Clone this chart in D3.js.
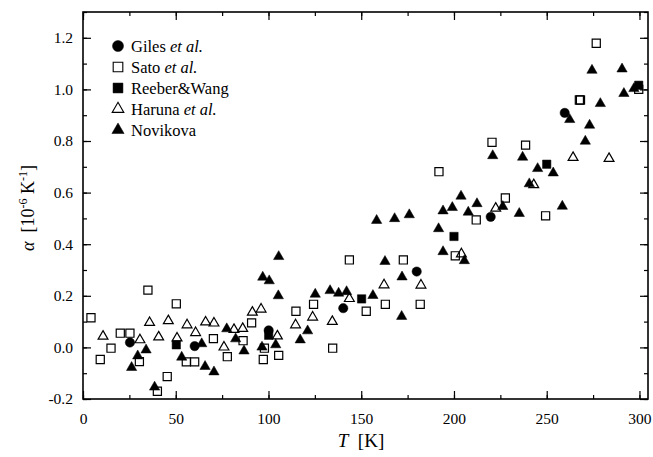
<!DOCTYPE html>
<html>
<head>
<meta charset="utf-8">
<script src="https://cdn.jsdelivr.net/npm/d3@7"></script>
<style>
  body { margin: 0; background: #fff; }
  svg { font-family: "Liberation Serif", "DejaVu Serif", serif; }
</style>
</head>
<body>
<div id="root"></div>
<script>
// Data: temperature T [K] and alpha [1e-6 / K]
const gilesT = [25.3, 60.2, 100.1, 140.3, 179.9, 219.8, 259.7];
const gilesA = [0.019, 0.005, 0.066, 0.152, 0.294, 0.506, 0.909];

const satoT = [4.3, 9.3, 15.1, 20.1, 25.3, 30.4, 35, 40.1, 45.4, 50.3, 55.7, 60.2, 70.3, 77.8, 86.3,
  90.9, 97.2, 97.8, 105.5, 114.8, 124.3, 134.6, 143.6, 152.7, 163, 172.7, 181.8, 191.9, 200.7, 212,
  220.5, 227.7, 238.6, 249.4, 267.6, 268.2, 276.7, 299.6];
const satoA = [0.115, -0.047, -0.003, 0.055, 0.055, -0.055, 0.222, -0.17, -0.113, 0.169, -0.056, -0.056, 0.034, -0.036, 0.026,
  0.095, -0.047, -0.003, -0.031, 0.14, 0.167, -0.003, 0.339, 0.14, 0.167, 0.339, 0.167, 0.681, 0.355, 0.494,
  0.795, 0.579, 0.784, 0.51, 0.959, 0.959, 1.179, 1.0];

const reeberT = [50.3, 100.1, 150.2, 200, 250, 299.6];
const reeberA = [0.01, 0.047, 0.188, 0.43, 0.71, 1.016];

const harunaT = [10.8, 30.7, 35.9, 40.8, 46, 50.7, 56.1, 60.7, 66.1, 70.6, 76, 81.4, 86.1, 91.3, 96,
  104.8, 114.6, 123.8, 134.4, 143.6, 162.3, 182.2, 204, 222.5, 243, 264.2, 283.6];
const harunaA = [0.043, 0.029, 0.096, 0.04, 0.103, 0.036, 0.087, 0.057, 0.098, 0.094, 0.001, 0.069, 0.073, 0.136, 0.148,
  0.044, 0.087, 0.117, 0.1, 0.189, 0.242, 0.241, 0.362, 0.539, 0.63, 0.736, 0.732];

const novikovaT = [26.2, 29.5, 34, 38.6, 53.2, 64, 65.8, 70.6, 77.5, 82.3, 86.8, 96.5, 96.9, 100.4, 103.9,
  105.3, 105.5, 117.1, 121.1, 125.2, 133.2, 137.8, 142.1, 156.3, 158.3, 162.8, 168, 171.8, 172, 175.9,
  191.7, 194.1, 194.1, 199.1, 203.8, 205.6, 207.7, 212.4, 220.9, 226.3, 235.2, 237, 240.6, 245.1, 253.5,
  258.4, 262.4, 270.8, 273.1, 274.4, 278.9, 290.6, 291.6, 297];
const novikovaA = [-0.078, -0.033, -0.01, -0.154, -0.038, 0.014, -0.074, -0.095, 0.072, 0.033, -0.014, 0.001, 0.272, 0.258, 0.01,
  0.2, 0.352, 0.029, 0.064, 0.206, 0.22, 0.21, 0.216, 0.201, 0.492, 0.333, 0.499, 0.12, 0.273, 0.514,
  0.46, 0.529, 0.371, 0.542, 0.586, 0.336, 0.524, 0.557, 0.743, 0.546, 0.519, 0.737, 0.634, 0.693, 0.676,
  0.547, 0.883, 0.799, 0.861, 1.074, 0.945, 1.079, 0.984, 1.003];

const xTicks = [0, 50, 100, 150, 200, 250, 300];
const yTicks = [-0.2, 0.0, 0.2, 0.4, 0.6, 0.8, 1.0, 1.2];

const W = 653, H = 457;
const mLeft = 83, mRight = 648, mTop = 12, mBottom = 399;

const svg = d3.select("#root").append("svg")
  .attr("width", W).attr("height", H);

const x = d3.scaleLinear().domain([0, 304.6]).range([mLeft, mRight]);
const y = d3.scaleLinear().domain([-0.2, 1.3]).range([mBottom, mTop]);

// Series definitions
const series = [
  { name: "Giles", tail: " et al.", T: gilesT, A: gilesA, type: d3.symbolCircle, size: 68, filled: true },
  { name: "Sato", tail: " et al.", T: satoT, A: satoA, type: d3.symbolSquare, size: 66, filled: false },
  { name: "Reeber&Wang", tail: "", T: reeberT, A: reeberA, type: d3.symbolSquare, size: 70, filled: true },
  { name: "Haruna", tail: " et al.", T: harunaT, A: harunaA, type: d3.symbolTriangle, size: 42, filled: false },
  { name: "Novikova", tail: "", T: novikovaT, A: novikovaA, type: d3.symbolTriangle, size: 46, filled: true }
];

// Axes (ticks inward on all sides)
const minorX = d3.range(0, 305, 25);
const minorY = d3.range(-0.2, 1.31, 0.1);
const fmtY = (d) => d3.format(".1f")(d).replace("\u2212", "-");

function tickAxis(axis, g) {
  g.call(axis);
  g.select(".domain").remove();
  g.selectAll("line").attr("stroke", "#000").attr("stroke-width", 1.2);
}

const gx = svg.append("g").attr("transform", `translate(0,${mBottom})`);
tickAxis(d3.axisBottom(x).tickValues(minorX).tickSize(-4).tickFormat(""), gx.append("g"));
tickAxis(d3.axisBottom(x).tickValues(xTicks).tickSize(-8).tickPadding(14).tickFormat(d3.format("d")), gx.append("g"));

const gxt = svg.append("g").attr("transform", `translate(0,${mTop})`);
tickAxis(d3.axisTop(x).tickValues(minorX).tickSize(-4).tickFormat(""), gxt.append("g"));
tickAxis(d3.axisTop(x).tickValues(xTicks).tickSize(-8).tickFormat(""), gxt.append("g"));

const gy = svg.append("g").attr("transform", `translate(${mLeft},0)`);
tickAxis(d3.axisLeft(y).tickValues(minorY).tickSize(-4).tickFormat(""), gy.append("g"));
tickAxis(d3.axisLeft(y).tickValues(yTicks).tickSize(-8).tickPadding(10).tickFormat(fmtY), gy.append("g"));

const gyr = svg.append("g").attr("transform", `translate(${mRight},0)`);
tickAxis(d3.axisRight(y).tickValues(minorY).tickSize(-4).tickFormat(""), gyr.append("g"));
tickAxis(d3.axisRight(y).tickValues(yTicks).tickSize(-8).tickFormat(""), gyr.append("g"));

svg.selectAll(".tick text")
  .attr("fill", "#000")
  .style("font-family", "'Liberation Serif', serif")
  .style("font-size", "15.5px");

svg.append("rect")
  .attr("x", mLeft).attr("y", mTop)
  .attr("width", mRight - mLeft).attr("height", mBottom - mTop)
  .attr("fill", "none").attr("stroke", "#000").attr("stroke-width", 1.6);

// Points
const drawOrder = [1, 3, 0, 2, 4];
drawOrder.forEach((i) => {
  const s = series[i];
  const sym = d3.symbol().type(s.type).size(s.size);
  svg.append("g")
    .selectAll("path")
    .data(d3.range(s.T.length))
    .join("path")
    .attr("d", sym)
    .attr("transform", (j) => `translate(${x(s.T[j])},${y(s.A[j])})`)
    .attr("fill", s.filled ? "#000" : "none")
    .attr("stroke", "#000")
    .attr("stroke-width", s.filled ? 0.5 : 1.2);
});

// Legend
const legend = svg.append("g").attr("transform", "translate(118,46)");
series.forEach((s, i) => {
  const row = legend.append("g").attr("transform", `translate(0,${i * 21})`);
  row.append("path")
    .attr("d", d3.symbol().type(s.type).size(s.size * 1.4))
    .attr("fill", s.filled ? "#000" : "none")
    .attr("stroke", "#000")
    .attr("stroke-width", s.filled ? 0.5 : 1.1);
  const t = row.append("text")
    .attr("x", 13).attr("y", 5.5)
    .style("font-size", "16.5px");
  t.append("tspan").text(s.name);
  if (s.tail) t.append("tspan").style("font-style", "italic").text(s.tail);
});

// Axis titles
const xt = svg.append("text")
  .attr("x", 361).attr("y", 447)
  .attr("text-anchor", "middle")
  .style("font-size", "19px");
xt.append("tspan").style("font-style", "italic").text("T");
xt.append("tspan").text("\u00a0\u00a0[K]");

const yt = svg.append("text")
  .attr("transform", "translate(34,208) rotate(-90)")
  .attr("text-anchor", "middle")
  .style("font-size", "18px");
yt.append("tspan").style("font-style", "italic").text("\u03b1");
yt.append("tspan").text("\u00a0\u00a0[10");
yt.append("tspan").attr("dy", -7).style("font-size", "12px").text("-6");
yt.append("tspan").attr("dy", 7).text("\u00a0K");
yt.append("tspan").attr("dy", -7).style("font-size", "12px").text("-1");
yt.append("tspan").attr("dy", 7).text("]");
</script>
</body>
</html>
